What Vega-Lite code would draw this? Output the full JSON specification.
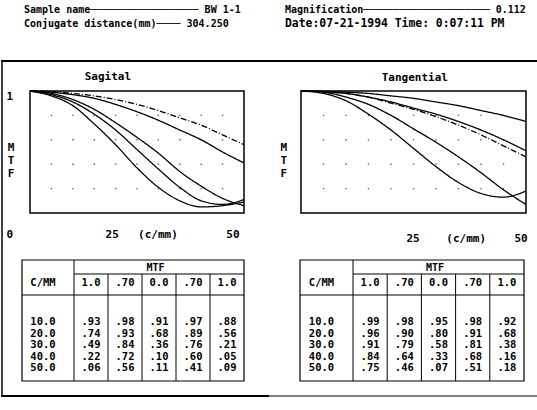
{
  "$schema": "https://vega.github.io/schema/vega-lite/v6.json",
  "padding": 0,
  "autosize": {"type": "pad"},
  "bounds": "flush",
  "spacing": 0,
  "columns": 2,
  "background": "white",
  "config": {
    "view": {"stroke": null},
    "axis": {"disable": true},
    "legend": {"disable": true},
    "concat": {"spacing": 0},
    "text": {"font": "DejaVu Sans Mono", "fontWeight": "bold", "fontSize": 11, "color": "black", "baseline": "middle"}
  },
  "datasets": {
    "hdr": [
      {"side": "A", "line": 1, "text": "Sample name──────────────────  BW 1-1"},
      {"side": "A", "line": 2, "text": "Conjugate distance(mm)────  304.250"},
      {"side": "B", "line": 1, "text": "Magnification─────────────────────  0.112"},
      {"side": "B", "line": 2, "text": "Date:07-21-1994  Time:  0:07:11 PM"}
    ],
    "grid": [{"gx": [5, 10, 15, 20, 25, 30, 35, 40, 45], "gy": [0.2, 0.4, 0.6, 0.8]}],
    "heads": [
      {"field": "L10", "head": "1.0"},
      {"field": "L07", "head": ".70"},
      {"field": "C00", "head": "0.0"},
      {"field": "R07", "head": ".70"},
      {"field": "R10", "head": "1.0"}
    ],
    "mtf": [
      {"plane": "Sagital", "cmm": 0, "L10": 1, "L07": 1, "C00": 1, "R07": 1, "R10": 1},
      {"plane": "Sagital", "cmm": 5, "L10": 0.98, "L07": 0.995, "C00": 0.97, "R07": 0.99, "R10": 0.96},
      {"plane": "Sagital", "cmm": 10, "L10": 0.93, "L07": 0.98, "C00": 0.91, "R07": 0.97, "R10": 0.88},
      {"plane": "Sagital", "cmm": 15, "L10": 0.85, "L07": 0.96, "C00": 0.81, "R07": 0.94, "R10": 0.73},
      {"plane": "Sagital", "cmm": 20, "L10": 0.74, "L07": 0.93, "C00": 0.68, "R07": 0.89, "R10": 0.56},
      {"plane": "Sagital", "cmm": 25, "L10": 0.62, "L07": 0.89, "C00": 0.52, "R07": 0.83, "R10": 0.37},
      {"plane": "Sagital", "cmm": 30, "L10": 0.49, "L07": 0.84, "C00": 0.36, "R07": 0.76, "R10": 0.21},
      {"plane": "Sagital", "cmm": 35, "L10": 0.34, "L07": 0.78, "C00": 0.21, "R07": 0.68, "R10": 0.10},
      {"plane": "Sagital", "cmm": 40, "L10": 0.22, "L07": 0.72, "C00": 0.10, "R07": 0.60, "R10": 0.05},
      {"plane": "Sagital", "cmm": 45, "L10": 0.12, "L07": 0.64, "C00": 0.07, "R07": 0.50, "R10": 0.06},
      {"plane": "Sagital", "cmm": 50, "L10": 0.06, "L07": 0.56, "C00": 0.11, "R07": 0.41, "R10": 0.09},
      {"plane": "Tangential", "cmm": 0, "L10": 1, "L07": 1, "C00": 1, "R07": 1, "R10": 1},
      {"plane": "Tangential", "cmm": 5, "L10": 0.997, "L07": 0.995, "C00": 0.99, "R07": 0.995, "R10": 0.98},
      {"plane": "Tangential", "cmm": 10, "L10": 0.99, "L07": 0.98, "C00": 0.95, "R07": 0.98, "R10": 0.92},
      {"plane": "Tangential", "cmm": 15, "L10": 0.98, "L07": 0.95, "C00": 0.89, "R07": 0.95, "R10": 0.81},
      {"plane": "Tangential", "cmm": 20, "L10": 0.96, "L07": 0.90, "C00": 0.80, "R07": 0.91, "R10": 0.68},
      {"plane": "Tangential", "cmm": 25, "L10": 0.94, "L07": 0.85, "C00": 0.69, "R07": 0.86, "R10": 0.53},
      {"plane": "Tangential", "cmm": 30, "L10": 0.91, "L07": 0.79, "C00": 0.58, "R07": 0.81, "R10": 0.38},
      {"plane": "Tangential", "cmm": 35, "L10": 0.88, "L07": 0.72, "C00": 0.46, "R07": 0.75, "R10": 0.25},
      {"plane": "Tangential", "cmm": 40, "L10": 0.84, "L07": 0.64, "C00": 0.33, "R07": 0.68, "R10": 0.16},
      {"plane": "Tangential", "cmm": 45, "L10": 0.80, "L07": 0.55, "C00": 0.19, "R07": 0.60, "R10": 0.13},
      {"plane": "Tangential", "cmm": 50, "L10": 0.75, "L07": 0.46, "C00": 0.07, "R07": 0.51, "R10": 0.18}
    ]
  },
  "concat": [
    {
      "width": 268,
      "height": 62,
      "layer": [
        {
          "data": {"name": "hdr"},
          "transform": [{"filter": "datum.side == 'A'"}],
          "mark": {"type": "text", "align": "left", "dx": 23, "fontSize": 10},
          "encoding": {
            "x": {"field": "side", "type": "nominal", "bandPosition": 0, "scale": {"type": "band", "paddingInner": 0, "paddingOuter": 0}},
            "y": {"field": "line", "type": "quantitative", "scale": {"domain": [0.286, 4.714], "reverse": true, "nice": false, "zero": false}},
            "text": {"field": "text"}
          }
        },
        {
          "data": {"values": [{}]},
          "mark": {"type": "rule", "strokeWidth": 2, "color": "black"},
          "encoding": {"y": {"datum": 4.64}}
        }
      ]
    },
    {
      "width": 269,
      "height": 62,
      "layer": [
        {
          "data": {"name": "hdr"},
          "transform": [{"filter": "datum.side == 'B' && datum.line == 1"}],
          "mark": {"type": "text", "align": "left", "dx": 16, "fontSize": 10},
          "encoding": {
            "x": {"field": "side", "type": "nominal", "bandPosition": 0, "scale": {"type": "band", "paddingInner": 0, "paddingOuter": 0}},
            "y": {"field": "line", "type": "quantitative", "scale": {"domain": [0.286, 4.714], "reverse": true, "nice": false, "zero": false}},
            "text": {"field": "text"}
          }
        },
        {
          "data": {"name": "hdr"},
          "transform": [{"filter": "datum.side == 'B' && datum.line == 2"}],
          "mark": {"type": "text", "align": "left", "dx": 16, "fontSize": 11.4},
          "encoding": {
            "x": {"field": "side", "type": "nominal", "bandPosition": 0},
            "y": {"field": "line", "type": "quantitative"},
            "text": {"field": "text"}
          }
        },
        {
          "data": {"values": [{}]},
          "mark": {"type": "rule", "strokeWidth": 2, "color": "black"},
          "encoding": {"y": {"datum": 4.64}}
        }
      ]
    },
    {
      "width": 268,
      "height": 188,
      "layer": [
        {
          "data": {"name": "grid"},
          "transform": [{"flatten": ["gx"]}, {"flatten": ["gy"]}],
          "mark": {"type": "square", "size": 2, "color": "black", "opacity": 0.6},
          "encoding": {
            "x": {"field": "gx", "type": "quantitative", "scale": {"domain": [-6.78, 55.84], "nice": false, "zero": false}},
            "y": {"field": "gy", "type": "quantitative", "scale": {"domain": [-0.3033, 1.2377], "nice": false, "zero": false}}
          }
        },
        {
          "data": {"values": [{}]},
          "mark": {"type": "rect", "filled": false, "stroke": "black", "strokeWidth": 1.5},
          "encoding": {"x": {"datum": 0}, "x2": {"datum": 50}, "y": {"datum": 0}, "y2": {"datum": 1}}
        },
        {
          "data": {"name": "mtf"},
          "transform": [{"filter": "datum.plane == 'Sagital'"}, {"fold": ["L10", "L07", "C00", "R07", "R10"], "as": ["field", "value"]}],
          "mark": {"type": "line", "color": "black", "strokeWidth": 1.3, "interpolate": "monotone"},
          "encoding": {
            "x": {"field": "cmm", "type": "quantitative"},
            "y": {"field": "value", "type": "quantitative"},
            "strokeDash": {"field": "field", "type": "nominal", "scale": {"domain": ["L10", "L07", "C00", "R07", "R10"], "range": [[1, 0], [6, 2, 1, 2], [1, 0], [1, 0], [1, 0]]}, "legend": null}
          }
        },
        {"data": {"values": [{}]}, "mark": {"type": "text", "text": "Sagital"}, "encoding": {"x": {"datum": 18.2}, "y": {"datum": 1.115}}},
        {"data": {"values": [{}]}, "mark": {"type": "text", "text": "1"}, "encoding": {"x": {"datum": -4.7}, "y": {"datum": 0.95}}},
        {"data": {"values": [{}]}, "mark": {"type": "text", "text": "M\nT\nF", "lineBreak": "\n", "lineHeight": 13}, "encoding": {"x": {"datum": -4.4}, "y": {"datum": 0.53}}},
        {"data": {"values": [{}]}, "mark": {"type": "text", "text": "0"}, "encoding": {"x": {"datum": -4.7}, "y": {"datum": -0.18}}},
        {"data": {"values": [{}]}, "mark": {"type": "text", "text": "25"}, "encoding": {"x": {"datum": 19.2}, "y": {"datum": -0.18}}},
        {"data": {"values": [{}]}, "mark": {"type": "text", "text": "(c/mm)"}, "encoding": {"x": {"datum": 29.9}, "y": {"datum": -0.18}}},
        {"data": {"values": [{}]}, "mark": {"type": "text", "text": "50"}, "encoding": {"x": {"datum": 47.4}, "y": {"datum": -0.18}}},
        {"data": {"values": [{}]}, "mark": {"type": "rule", "color": "black", "strokeWidth": 1.5}, "encoding": {"x": {"datum": -6.55}}}
      ]
    },
    {
      "width": 269,
      "height": 188,
      "layer": [
        {
          "data": {"name": "grid"},
          "transform": [{"flatten": ["gx"]}, {"flatten": ["gy"]}],
          "mark": {"type": "square", "size": 2, "color": "black", "opacity": 0.6},
          "encoding": {
            "x": {"field": "gx", "type": "quantitative", "scale": {"domain": [-7.11, 52.67], "nice": false, "zero": false}},
            "y": {"field": "gy", "type": "quantitative", "scale": {"domain": [-0.3033, 1.2377], "nice": false, "zero": false}}
          }
        },
        {
          "data": {"values": [{}]},
          "mark": {"type": "rect", "filled": false, "stroke": "black", "strokeWidth": 1.5},
          "encoding": {"x": {"datum": 0}, "x2": {"datum": 50}, "y": {"datum": 0}, "y2": {"datum": 1}}
        },
        {
          "data": {"name": "mtf"},
          "transform": [{"filter": "datum.plane == 'Tangential'"}, {"fold": ["L10", "L07", "C00", "R07", "R10"], "as": ["field", "value"]}],
          "mark": {"type": "line", "color": "black", "strokeWidth": 1.3, "interpolate": "monotone"},
          "encoding": {
            "x": {"field": "cmm", "type": "quantitative"},
            "y": {"field": "value", "type": "quantitative"},
            "strokeDash": {"field": "field", "type": "nominal", "scale": {"domain": ["L10", "L07", "C00", "R07", "R10"], "range": [[1, 0], [4, 2], [1, 0], [1, 0], [1, 0]]}, "legend": null}
          }
        },
        {"data": {"values": [{}]}, "mark": {"type": "text", "text": "Tangential"}, "encoding": {"x": {"datum": 25.3}, "y": {"datum": 1.107}}},
        {"data": {"values": [{}]}, "mark": {"type": "text", "text": "M\nT\nF", "lineBreak": "\n", "lineHeight": 13}, "encoding": {"x": {"datum": -3.8}, "y": {"datum": 0.53}}},
        {"data": {"values": [{}]}, "mark": {"type": "text", "text": "25"}, "encoding": {"x": {"datum": 24.9}, "y": {"datum": -0.213}}},
        {"data": {"values": [{}]}, "mark": {"type": "text", "text": "(c/mm)"}, "encoding": {"x": {"datum": 36.7}, "y": {"datum": -0.213}}},
        {"data": {"values": [{}]}, "mark": {"type": "text", "text": "50"}, "encoding": {"x": {"datum": 48.9}, "y": {"datum": -0.213}}}
      ]
    },
    {
      "width": 268,
      "height": 160,
      "layer": [
        {
          "data": {"values": [{}]},
          "mark": {"type": "rect", "filled": false, "stroke": "black", "strokeWidth": 1.2},
          "encoding": {
            "x": {"datum": -0.5, "scale": {"domain": [-0.5, 0.5, 5.5], "range": [21, 73, 243], "nice": false, "zero": false}},
            "x2": {"datum": 5.5},
            "y": {"datum": -4.391, "scale": {"domain": [-5.261, 8.652], "reverse": true, "nice": false, "zero": false}},
            "y2": {"datum": 6.13}
          }
        },
        {"data": {"values": [{}]}, "mark": {"type": "rule", "color": "black"}, "encoding": {"x": {"datum": 0.5}, "y": {"datum": -4.391}, "y2": {"datum": 6.13}}},
        {"data": {"values": [{}]}, "mark": {"type": "rule", "color": "black"}, "encoding": {"x": {"datum": 0.5}, "x2": {"datum": 5.5}, "y": {"datum": -3.174}}},
        {"data": {"values": [{}]}, "mark": {"type": "rule", "color": "black", "strokeWidth": 1.2}, "encoding": {"x": {"datum": -0.5}, "x2": {"datum": 5.5}, "y": {"datum": -1.348}}},
        {
          "data": {"name": "heads"},
          "transform": [{"filter": "datum.field != 'L10'"}, {"calculate": "indexof(['L10','L07','C00','R07','R10'], datum.field) + 0.5", "as": "xb"}],
          "mark": {"type": "rule", "color": "black"},
          "encoding": {"x": {"field": "xb", "type": "quantitative"}, "y": {"datum": -3.174}, "y2": {"datum": 6.13}}
        },
        {"data": {"values": [{}]}, "mark": {"type": "text", "text": "MTF", "fontSize": 10}, "encoding": {"x": {"datum": 2.9}, "y": {"datum": -3.696}}},
        {"data": {"values": [{}]}, "mark": {"type": "text", "text": "C/MM", "dx": -5, "fontSize": 10.5}, "encoding": {"x": {"datum": 0}, "y": {"datum": -2.391}}},
        {
          "data": {"name": "heads"},
          "transform": [{"calculate": "indexof(['L10','L07','C00','R07','R10'], datum.field) + 1", "as": "col"}],
          "mark": {"type": "text", "fontSize": 10.5},
          "encoding": {"x": {"field": "col", "type": "quantitative"}, "y": {"datum": -2.391}, "text": {"field": "head"}}
        },
        {
          "data": {"name": "mtf"},
          "transform": [
            {"filter": "datum.plane == 'Sagital' && datum.cmm >= 10 && datum.cmm % 10 == 0"},
            {"calculate": "datum.cmm / 10", "as": "row"},
            {"calculate": "format(datum.cmm, '.1f')", "as": "lbl"}
          ],
          "mark": {"type": "text", "dx": -5, "fontSize": 10.5},
          "encoding": {"x": {"datum": 0}, "y": {"field": "row", "type": "quantitative"}, "text": {"field": "lbl"}}
        },
        {
          "data": {"name": "mtf"},
          "transform": [
            {"filter": "datum.plane == 'Sagital' && datum.cmm >= 10 && datum.cmm % 10 == 0"},
            {"fold": ["L10", "L07", "C00", "R07", "R10"], "as": ["field", "value"]},
            {"calculate": "indexof(['L10','L07','C00','R07','R10'], datum.field) + 1", "as": "col"},
            {"calculate": "datum.cmm / 10", "as": "row"},
            {"calculate": "substring(format(datum.value, '.2f'), 1)", "as": "lbl"}
          ],
          "mark": {"type": "text", "fontSize": 10.5},
          "encoding": {"x": {"field": "col", "type": "quantitative"}, "y": {"field": "row", "type": "quantitative"}, "text": {"field": "lbl"}}
        },
        {"data": {"values": [{}]}, "mark": {"type": "rule", "color": "black", "strokeWidth": 2}, "encoding": {"y": {"datum": 7.435}}},
        {"data": {"values": [{}]}, "mark": {"type": "rule", "color": "black", "strokeWidth": 1.5}, "encoding": {"x": {"datum": -0.885}, "y": {"datum": -5.261}, "y2": {"datum": 7.435}}}
      ]
    },
    {
      "width": 269,
      "height": 160,
      "layer": [
        {
          "data": {"values": [{}]},
          "mark": {"type": "rect", "filled": false, "stroke": "black", "strokeWidth": 1.2},
          "encoding": {
            "x": {"datum": -0.5, "scale": {"domain": [-0.5, 0.5, 5.5], "range": [31, 84, 255], "nice": false, "zero": false}},
            "x2": {"datum": 5.5},
            "y": {"datum": -4.391, "scale": {"domain": [-5.261, 8.652], "reverse": true, "nice": false, "zero": false}},
            "y2": {"datum": 6.13}
          }
        },
        {"data": {"values": [{}]}, "mark": {"type": "rule", "color": "black"}, "encoding": {"x": {"datum": 0.5}, "y": {"datum": -4.391}, "y2": {"datum": 6.13}}},
        {"data": {"values": [{}]}, "mark": {"type": "rule", "color": "black"}, "encoding": {"x": {"datum": 0.5}, "x2": {"datum": 5.5}, "y": {"datum": -3.174}}},
        {"data": {"values": [{}]}, "mark": {"type": "rule", "color": "black", "strokeWidth": 1.2}, "encoding": {"x": {"datum": -0.5}, "x2": {"datum": 5.5}, "y": {"datum": -1.348}}},
        {
          "data": {"name": "heads"},
          "transform": [{"filter": "datum.field != 'L10'"}, {"calculate": "indexof(['L10','L07','C00','R07','R10'], datum.field) + 0.5", "as": "xb"}],
          "mark": {"type": "rule", "color": "black"},
          "encoding": {"x": {"field": "xb", "type": "quantitative"}, "y": {"datum": -3.174}, "y2": {"datum": 6.13}}
        },
        {"data": {"values": [{}]}, "mark": {"type": "text", "text": "MTF", "fontSize": 10}, "encoding": {"x": {"datum": 2.9}, "y": {"datum": -3.696}}},
        {"data": {"values": [{}]}, "mark": {"type": "text", "text": "C/MM", "dx": -5, "fontSize": 10.5}, "encoding": {"x": {"datum": 0}, "y": {"datum": -2.391}}},
        {
          "data": {"name": "heads"},
          "transform": [{"calculate": "indexof(['L10','L07','C00','R07','R10'], datum.field) + 1", "as": "col"}],
          "mark": {"type": "text", "fontSize": 10.5},
          "encoding": {"x": {"field": "col", "type": "quantitative"}, "y": {"datum": -2.391}, "text": {"field": "head"}}
        },
        {
          "data": {"name": "mtf"},
          "transform": [
            {"filter": "datum.plane == 'Tangential' && datum.cmm >= 10 && datum.cmm % 10 == 0"},
            {"calculate": "datum.cmm / 10", "as": "row"},
            {"calculate": "format(datum.cmm, '.1f')", "as": "lbl"}
          ],
          "mark": {"type": "text", "dx": -5, "fontSize": 10.5},
          "encoding": {"x": {"datum": 0}, "y": {"field": "row", "type": "quantitative"}, "text": {"field": "lbl"}}
        },
        {
          "data": {"name": "mtf"},
          "transform": [
            {"filter": "datum.plane == 'Tangential' && datum.cmm >= 10 && datum.cmm % 10 == 0"},
            {"fold": ["L10", "L07", "C00", "R07", "R10"], "as": ["field", "value"]},
            {"calculate": "indexof(['L10','L07','C00','R07','R10'], datum.field) + 1", "as": "col"},
            {"calculate": "datum.cmm / 10", "as": "row"},
            {"calculate": "substring(format(datum.value, '.2f'), 1)", "as": "lbl"}
          ],
          "mark": {"type": "text", "fontSize": 10.5},
          "encoding": {"x": {"field": "col", "type": "quantitative"}, "y": {"field": "row", "type": "quantitative"}, "text": {"field": "lbl"}}
        },
        {"data": {"values": [{}]}, "mark": {"type": "rule", "color": "black", "strokeWidth": 1.2}, "encoding": {"y": {"datum": 7.435}}}
      ]
    }
  ]
}
